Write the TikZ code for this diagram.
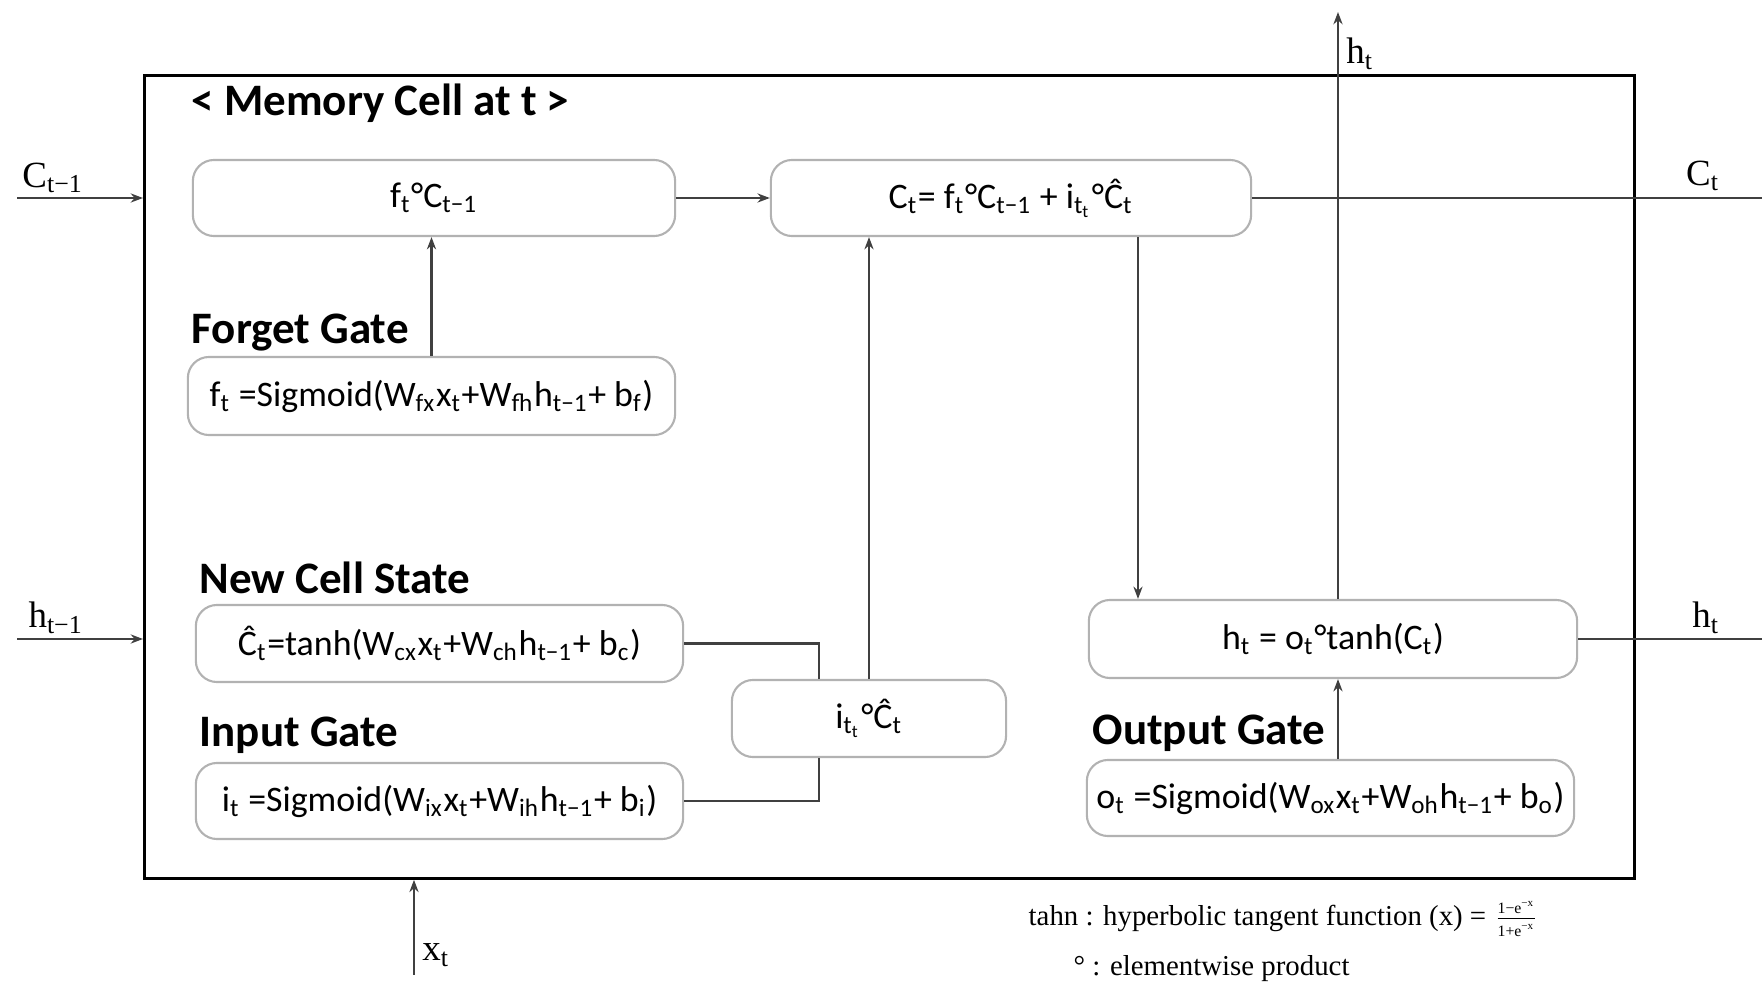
\documentclass[tikz,border=0pt]{standalone}
\usepackage{fontspec}
\setmainfont{Carlito}
\newfontfamily\notefont{Liberation Serif}
\usetikzlibrary{arrows.meta}
\newcommand{\subs}[1]{\textsubscript{#1}}

\begin{document}
\begin{tikzpicture}[x=0.01cm, y=-0.01cm, >={Stealth[length=3.5pt,width=2.6pt]}]
    \tikzset{
        cellbox/.style={draw=gray!60, rounded corners=6pt, line width=0.6pt, inner sep=0pt,
            font=\fontsize{10.2}{12}\selectfont},
        gatelabel/.style={anchor=west, inner sep=0pt, font=\fontsize{12.8}{15}\selectfont\bfseries},
        sidelabel/.style={inner sep=0pt, font=\notefont\fontsize{10.5}{12}\selectfont},
        notelabel/.style={anchor=west, inner sep=0pt, font=\notefont\fontsize{8.2}{10}\selectfont},
        wire/.style={line width=0.6pt, draw=black!75}
    }
    \useasboundingbox (0,0) rectangle (1762,982);

    % Khung memory cell
    \node[draw, line width=0.9pt, minimum width=14.89cm, minimum height=8.02cm, inner sep=0pt]
        (cell) at (889.5,477) {};
    \node[gatelabel] (title) at (191,103) {< Memory Cell at t >};

    % Cac o cong thuc
    \node[cellbox, minimum width=4.82cm, minimum height=0.76cm] (fc) at (434,198)
        {f\subs{t}°C\subs{t−1}};
    \node[cellbox, minimum width=4.80cm, minimum height=0.76cm] (ct) at (1011,198)
        {C\subs{t}= f\subs{t}°C\subs{t−1} + i\subs{t\subs{t}}°Ĉ\subs{t}};
    \node[cellbox, minimum width=4.87cm, minimum height=0.78cm] (ft) at (431.5,396)
        {f\subs{t} =Sigmoid(W\subs{fx}x\subs{t}+W\subs{fh}h\subs{t−1}+ b\subs{f})};
    \node[cellbox, minimum width=4.87cm, minimum height=0.77cm] (cn) at (439.5,643.5)
        {Ĉ\subs{t}=tanh(W\subs{cx}x\subs{t}+W\subs{ch}h\subs{t−1}+ b\subs{c})};
    \node[cellbox, minimum width=2.74cm, minimum height=0.77cm] (ic) at (869,718.5)
        {i\subs{t\subs{t}}°Ĉ\subs{t}};
    \node[cellbox, minimum width=4.87cm, minimum height=0.76cm] (it) at (439.5,801)
        {i\subs{t} =Sigmoid(W\subs{ix}x\subs{t}+W\subs{ih}h\subs{t−1}+ b\subs{i})};
    \node[cellbox, minimum width=4.88cm, minimum height=0.78cm] (ht) at (1333,639)
        {h\subs{t} = o\subs{t}°tanh(C\subs{t})};
    \node[cellbox, minimum width=4.87cm, minimum height=0.76cm] (ot) at (1330.5,798)
        {o\subs{t} =Sigmoid(W\subs{ox}x\subs{t}+W\subs{oh}h\subs{t−1}+ b\subs{o})};

    % Ten cac cong
    \node[gatelabel] (forget) at (191,333) {Forget Gate};
    \node[gatelabel] (newstate) at (199,578) {New Cell State};
    \node[gatelabel] (input) at (199,735) {Input Gate};
    \node[gatelabel] (output) at (1092,733) {Output Gate};

    % Diem phu
    \coordinate (ledge) at (17,0);
    \coordinate (redge) at (1762,0);
    \coordinate (icin) at (819,0);
    \coordinate (ctout) at (1138,0);
    \coordinate (htup) at (1338,12);
    \coordinate (xin) at (414,975);

    % Dau vao
    \draw[wire, ->] (ledge |- fc.west) -- (cell.west |- fc.west);
    \draw[wire, ->] (ledge |- ht.west) -- (cell.west |- ht.west);
    \draw[wire, ->] (xin) -- (xin |- cell.south);

    % Duong noi ben trong
    \draw[wire, ->] (fc.east) -- (ct.west);
    \draw[wire, ->] (ft.north) -- (ft.north |- fc.south);
    \draw[wire] (cn.east) -| (icin |- ic.north);
    \draw[wire] (it.east) -| (icin |- ic.south);
    \draw[wire, ->] (ic.north) -- (ic.north |- ct.south);
    \draw[wire, ->] (ctout |- ct.south) -- (ctout |- ht.north);
    \draw[wire, ->] (htup |- ot.north) -- (htup |- ht.south);

    % Dau ra
    \draw[wire] (ct.east) -- (ct.east -| redge);
    \draw[wire] (ht.east) -- (ht.east -| redge);
    \draw[wire, ->] (htup |- ht.north) -- (htup);

    % Nhan
    \node[sidelabel] (cprev) at (53,178) {C\subs{t−1}};
    \node[sidelabel] (hprev) at (56,618) {h\subs{t−1}};
    \node[sidelabel] (cnext) at (1703,176) {C\subs{t}};
    \node[sidelabel] (hnext) at (1706,618) {h\subs{t}};
    \node[sidelabel] (htop) at (1360,54) {h\subs{t}};
    \node[sidelabel] (xlab) at (436,955) {x\subs{t}};

    % Chu thich
    \node[notelabel] (tanhnote) at (1028,919)
        {tahn : hyperbolic tangent function (x) = $\frac{\mbox{\fontsize{4.5}{5}\selectfont 1−e\textsuperscript{−x}}}{\mbox{\fontsize{4.5}{5}\selectfont 1+e\textsuperscript{−x}}}$};
    \node[notelabel] (prodnote) at (1073,969) {° : elementwise product};
\end{tikzpicture}
\end{document}
